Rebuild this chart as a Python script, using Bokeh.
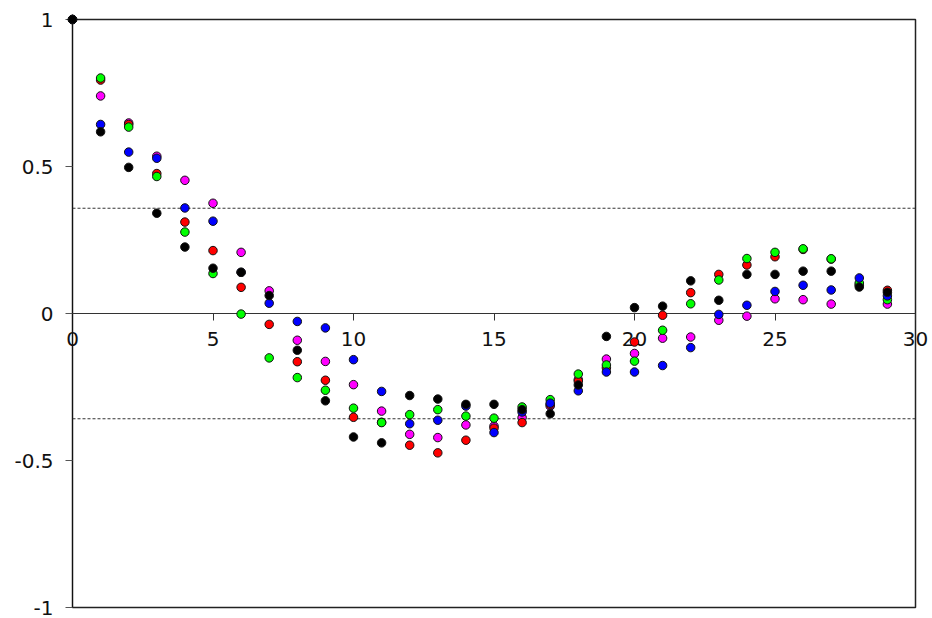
from bokeh.plotting import figure
from bokeh.models import Range1d, FixedTicker, Span
from bokeh.core.properties import value
from bokeh.embed import file_html
from bokeh.resources import INLINE

lags = list(range(30))

red = [1, 0.794, 0.643, 0.476, 0.311, 0.214, 0.089, -0.037, -0.164, -0.227,
       -0.353, -0.370, -0.448, -0.474, -0.431, -0.390, -0.371, -0.310, -0.230, -0.185,
       -0.097, -0.006, 0.071, 0.133, 0.165, 0.193, 0.218, 0.185, 0.100, 0.079]
green = [1, 0.801, 0.634, 0.466, 0.277, 0.136, -0.002, -0.151, -0.218, -0.261,
         -0.322, -0.371, -0.344, -0.327, -0.349, -0.356, -0.318, -0.293, -0.206, -0.175,
         -0.162, -0.057, 0.033, 0.114, 0.187, 0.208, 0.220, 0.186, 0.104, 0.047]
blue = [1, 0.643, 0.549, 0.528, 0.359, 0.314, 0.140, 0.035, -0.027, -0.049,
        -0.157, -0.265, -0.375, -0.363, -0.315, -0.405, -0.335, -0.305, -0.263, -0.199,
        -0.199, -0.177, -0.116, -0.003, 0.028, 0.075, 0.096, 0.080, 0.121, 0.060]
magenta = [1, 0.740, 0.648, 0.535, 0.453, 0.375, 0.208, 0.077, -0.091, -0.163,
           -0.242, -0.332, -0.411, -0.422, -0.379, -0.383, -0.354, -0.315, -0.225, -0.155,
           -0.136, -0.084, -0.080, -0.023, -0.009, 0.050, 0.047, 0.032, 0.095, 0.032]
black = [1, 0.618, 0.497, 0.341, 0.226, 0.154, 0.140, 0.061, -0.125, -0.297,
         -0.420, -0.440, -0.279, -0.291, -0.309, -0.309, -0.327, -0.341, -0.243, -0.078,
         0.020, 0.025, 0.111, 0.045, 0.133, 0.133, 0.144, 0.144, 0.090, 0.072]

series = [("magenta", magenta, "#FF00FF"), ("red", red, "#FF0000"),
          ("green", green, "#00FF00"), ("blue", blue, "#0000FF"),
          ("black", black, "#000000")]

conf_bound = 0.358

x_ticks = [0, 5, 10, 15, 20, 25, 30]
x_tick_labels = ["0", "5", "10", "15", "20", "25", "30"]
y_ticks = [-1, -0.5, 0, 0.5, 1]
y_tick_labels = ["-1", "-0.5", "0", "0.5", "1"]

FONT = "DejaVu Sans"

p = figure(width=930, height=618, output_backend="svg", toolbar_location=None,
           x_range=Range1d(0, 30), y_range=Range1d(-1, 1),
           min_border_left=72, min_border_right=15, min_border_top=19, min_border_bottom=11)
p.grid.visible = False
p.background_fill_color = "white"
p.border_fill_color = "white"
p.outline_line_color = "#222222"
p.outline_line_width = 1.5

# x axis crossing at y = 0
xa = p.xaxis[0]
xa.fixed_location = 0
xa.ticker = FixedTicker(ticks=x_ticks)
xa.major_label_text_color = None
xa.minor_tick_line_color = None
xa.major_tick_in = 0
xa.major_tick_out = 7
xa.axis_line_color = "#333333"
xa.major_tick_line_color = "#333333"

ya = p.yaxis[0]
ya.ticker = FixedTicker(ticks=y_ticks)
ya.major_label_overrides = {t: s for t, s in zip(y_ticks, y_tick_labels)}
ya.minor_tick_line_color = None
ya.major_tick_in = 0
ya.major_tick_out = 7
ya.major_label_standoff = 12
ya.axis_line_color = "#111111"
ya.major_tick_line_color = "#555555"
ya.major_label_text_font = FONT
ya.major_label_text_font_size = "20px"
ya.major_label_text_color = "#111111"

for loc in (conf_bound, -conf_bound):
    p.add_layout(Span(location=loc, dimension="width", line_color="#333333",
                      line_width=1, line_dash="3 2"))

# x tick labels drawn as text so they are not clipped at the frame edges
xl = p.text(x=x_ticks, y=[0] * len(x_ticks), text=x_tick_labels,
            text_font=value(FONT), text_font_size="20px", text_color="#111111",
            text_align="center", text_baseline="top", y_offset=18)
xl.level = "overlay"

for name, vals, col in series:
    r = p.scatter(lags, vals, size=8.5, fill_color=col, line_color="#111111", line_width=1)
    r.level = "overlay"

open("out.html", "w").write(file_html(p, INLINE))
